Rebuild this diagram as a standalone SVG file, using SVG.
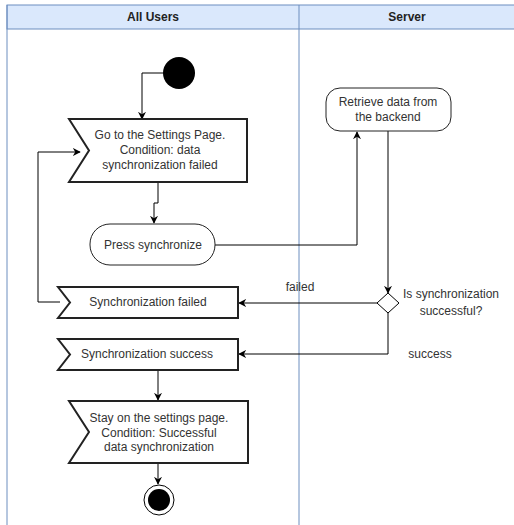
<svg xmlns="http://www.w3.org/2000/svg" width="514" height="525" viewBox="0 0 514 525">
<defs>
<marker id="arr" viewBox="0 0 10 10" refX="9" refY="5" markerWidth="8" markerHeight="8" markerUnits="userSpaceOnUse" orient="auto">
<path d="M0,0 L10,5 L0,10 L3,5 Z" fill="#000"/>
</marker>
</defs>
<style>
text{font-family:"Liberation Sans",Arial,sans-serif;font-size:12px;fill:#333;text-anchor:middle}
.hdr{font-weight:bold;font-size:12px;fill:#222}
.lane{fill:none;stroke:#6c8ebf;stroke-width:1}
.head{fill:#dae8fc;stroke:#6c8ebf;stroke-width:1}
.sig{fill:#fff;stroke:#222;stroke-width:2}
.act{fill:#fff;stroke:#222;stroke-width:1}
.edge{fill:none;stroke:#000;stroke-width:1;marker-end:url(#arr)}
.plain{fill:none;stroke:#000;stroke-width:1}
</style>
<g id="lanes">
<rect class="head" x="7" y="5" width="520" height="24"/>
<line class="lane" x1="7" y1="5" x2="7" y2="525"/>
<line class="lane" x1="299" y1="5" x2="299" y2="525"/>
<text class="hdr" x="153" y="21">All Users</text>
<text class="hdr" x="407" y="21">Server</text>
</g>
<g id="connectors">
<path class="edge" d="M163,73 H142 V119"/>
<path class="edge" d="M158,182 V203 H154 V223"/>
<path class="edge" d="M215,245 H357 V132"/>
<path class="edge" d="M388,131 V293"/>
<path class="edge" d="M378,303 H239"/>
<path class="edge" d="M388,313 V354 H239"/>
<path class="edge" d="M60,302 H38 V152 H80"/>
<path class="edge" d="M158,370 V400"/>
<path class="edge" d="M158,463 V484"/>
<text x="300" y="291">failed</text>
<text x="430" y="358">success</text>
</g>
<g id="start">
<circle cx="179" cy="73" r="16" fill="#000"/>
</g>
<g id="goto">
<polygon class="sig" points="69,119 247,119 247,182 69,182 89,150.5"/>
<text x="160" y="139">Go to the Settings Page.</text>
<text x="160" y="154">Condition: data</text>
<text x="160" y="169">synchronization failed</text>
</g>
<g id="press">
<rect class="act" x="90" y="224" width="125" height="41" rx="20"/>
<text x="153" y="249">Press synchronize</text>
</g>
<g id="retrieve">
<rect class="act" x="326" y="88" width="125" height="43" rx="14"/>
<text x="388" y="106">Retrieve data from</text>
<text x="388" y="121">the backend</text>
</g>
<g id="decision">
<polygon fill="#fff" stroke="#000" stroke-width="1" points="388,293 399,303 388,313 377,303"/>
<text x="451" y="298">Is synchronization</text>
<text x="451" y="315">successful?</text>
</g>
<g id="failed">
<polygon class="sig" points="58,287 238,287 238,318 58,318 70,302.5"/>
<text x="148" y="306">Synchronization failed</text>
</g>
<g id="success">
<polygon class="sig" points="58,339 238,339 238,370 58,370 70,354.5"/>
<text x="147" y="358">Synchronization success</text>
</g>
<g id="stay">
<polygon class="sig" points="69,401 248,401 248,463 69,463 89,432"/>
<text x="159" y="422">Stay on the settings page.</text>
<text x="159" y="437">Condition: Successful</text>
<text x="159" y="451">data synchronization</text>
</g>
<g id="end">
<circle cx="159" cy="500" r="15" fill="#fff" stroke="#000" stroke-width="1"/>
<circle cx="159" cy="500" r="11" fill="#000"/>
</g>
</svg>
